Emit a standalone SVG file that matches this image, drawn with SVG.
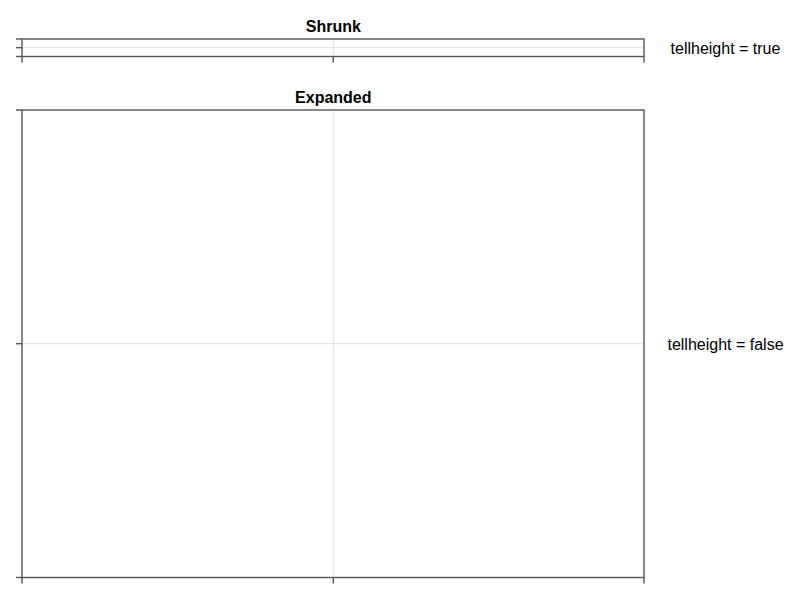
<svg xmlns="http://www.w3.org/2000/svg" width="800" height="600" viewBox="0 0 800 600">
<style>
.grid{stroke:#000;stroke-opacity:0.12;stroke-width:1;fill:none}
.spine{stroke:#555;stroke-width:1.4;fill:none}
.tick{stroke:#555;stroke-width:1.4;fill:none}
.title{font-family:"Liberation Sans",Arial,sans-serif;font-size:16px;font-weight:bold;fill:#000;text-anchor:middle}
.label{font-family:"Liberation Sans",Arial,sans-serif;font-size:16px;fill:#000;text-anchor:middle}
</style>
<rect width="800" height="600" fill="#fff"/>
<g id="axis-shrunk">
  <line class="grid" x1="333.3" y1="39" x2="333.3" y2="56.5"/>
  <line class="grid" x1="22" y1="47.7" x2="644" y2="47.7"/>
  <rect class="spine" x="22" y="39" width="622" height="17.5"/>
  <line class="tick" x1="16" y1="39" x2="22" y2="39"/>
  <line class="tick" x1="16" y1="47.7" x2="22" y2="47.7"/>
  <line class="tick" x1="16" y1="56.5" x2="22" y2="56.5"/>
  <line class="tick" x1="22" y1="56.5" x2="22" y2="62.5"/>
  <line class="tick" x1="333.3" y1="56.5" x2="333.3" y2="62.5"/>
  <line class="tick" x1="644" y1="56.5" x2="644" y2="62.5"/>
  <text class="title" x="333.3" y="32">Shrunk</text>
</g>
<g id="axis-expanded">
  <line class="grid" x1="333.3" y1="110" x2="333.3" y2="577.5"/>
  <line class="grid" x1="22" y1="343.7" x2="644" y2="343.7"/>
  <rect class="spine" x="22" y="110" width="622" height="467.5"/>
  <line class="tick" x1="16" y1="110" x2="22" y2="110"/>
  <line class="tick" x1="16" y1="343.7" x2="22" y2="343.7"/>
  <line class="tick" x1="16" y1="577.5" x2="22" y2="577.5"/>
  <line class="tick" x1="22" y1="577.5" x2="22" y2="583.5"/>
  <line class="tick" x1="333.3" y1="577.5" x2="333.3" y2="583.5"/>
  <line class="tick" x1="644" y1="577.5" x2="644" y2="583.5"/>
  <text class="title" x="333.3" y="102.5">Expanded</text>
</g>
<g id="labels">
  <text class="label" x="725.5" y="54">tellheight = true</text>
  <text class="label" x="725.5" y="349.5">tellheight = false</text>
</g>
<g id="connectors"/>
</svg>
